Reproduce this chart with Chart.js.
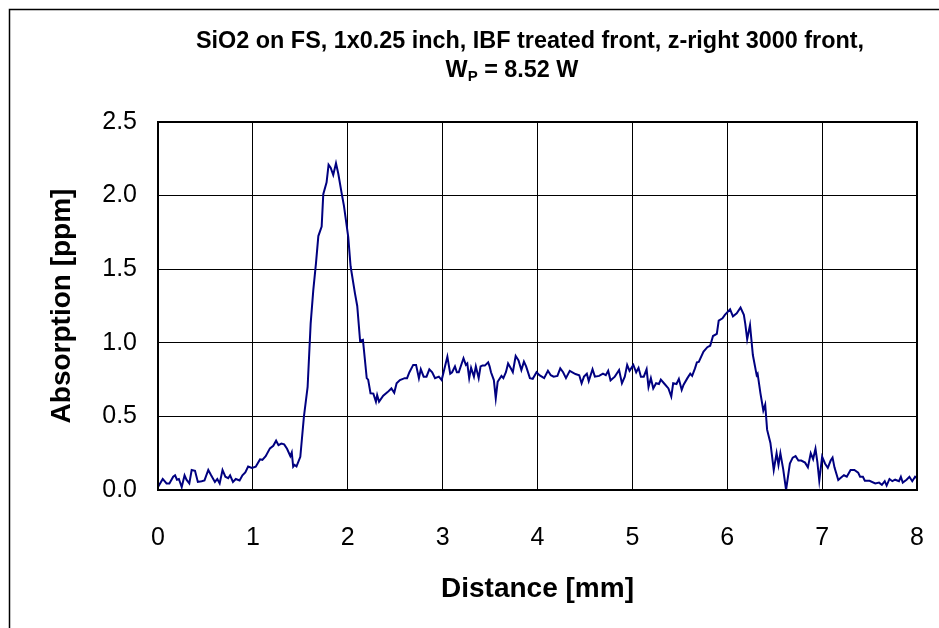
<!DOCTYPE html>
<html>
<head>
<meta charset="utf-8">
<script src="https://cdn.jsdelivr.net/npm/chart.js@4"></script>
<style>
  html, body { margin: 0; padding: 0; background: #fff; }
  #wrap { width: 939px; height: 628px; }
</style>
</head>
<body>
<div id="wrap"><canvas id="absChart" width="939" height="628"></canvas></div>
<script>
// absorption scan across the sample, distance in mm
const distance = [
  0.00, 0.05, 0.09, 0.12, 0.16, 0.18, 0.20, 0.22, 0.25, 0.28, 0.30, 0.33, 0.355, 0.39, 0.42, 0.46, 0.49,
  0.53, 0.56, 0.60, 0.625, 0.65, 0.68, 0.71, 0.74, 0.76, 0.79, 0.82, 0.86, 0.89, 0.92, 0.95, 0.99,
  1.03, 1.075, 1.10, 1.135, 1.18, 1.215, 1.245, 1.27, 1.30, 1.33, 1.36, 1.395, 1.41, 1.425, 1.44, 1.46, 1.50,
  1.538, 1.577, 1.609, 1.637, 1.665, 1.69, 1.725, 1.742, 1.777, 1.798, 1.82, 1.847, 1.876, 1.90, 1.936, 1.96,
  2.005, 2.03, 2.076, 2.10, 2.13, 2.16, 2.20, 2.215, 2.24, 2.27, 2.297, 2.31, 2.33, 2.374, 2.42, 2.46, 2.49,
  2.515, 2.55, 2.60, 2.625, 2.65, 2.69, 2.72, 2.75, 2.77, 2.80, 2.83, 2.86, 2.89, 2.92, 2.96, 2.99,
  3.01, 3.05, 3.08, 3.10, 3.13, 3.15, 3.17, 3.22, 3.245, 3.26, 3.28, 3.30, 3.33, 3.35, 3.38, 3.40, 3.42,
  3.445, 3.48, 3.495, 3.51, 3.54, 3.56, 3.58, 3.62, 3.64, 3.667, 3.69, 3.72, 3.74, 3.77, 3.80, 3.83, 3.857,
  3.88, 3.92, 3.95, 3.99, 4.02, 4.07, 4.11, 4.14, 4.17, 4.21, 4.24, 4.27, 4.30, 4.34, 4.40, 4.44, 4.465,
  4.49, 4.52, 4.54, 4.58, 4.605, 4.65, 4.69, 4.72, 4.745, 4.77, 4.815, 4.86, 4.89, 4.92, 4.945, 4.97,
  5.01, 5.04, 5.065, 5.09, 5.12, 5.15, 5.17, 5.195, 5.22, 5.25, 5.28, 5.30, 5.34, 5.38, 5.41, 5.43, 5.465,
  5.49, 5.52, 5.54, 5.58, 5.61, 5.63, 5.66, 5.68, 5.70, 5.75, 5.79, 5.82, 5.85, 5.89, 5.91, 5.95, 5.975,
  6.03, 6.06, 6.10, 6.14, 6.175, 6.19, 6.21, 6.24, 6.27, 6.31, 6.32, 6.35, 6.38, 6.40, 6.42, 6.455, 6.49,
  6.52, 6.54, 6.56, 6.59, 6.62, 6.66, 6.69, 6.72, 6.75, 6.78, 6.82, 6.85, 6.88, 6.905, 6.93, 6.95, 6.97,
  7.00, 7.03, 7.06, 7.09, 7.11, 7.13, 7.17, 7.20, 7.23, 7.26, 7.30, 7.34, 7.38, 7.40, 7.43, 7.45, 7.50,
  7.56, 7.60, 7.63, 7.66, 7.68, 7.71, 7.74, 7.77, 7.81, 7.83, 7.85, 7.89, 7.92, 7.95, 7.98, 8.00
];
// absorption in ppm
const absorption = [
  0.02, 0.075, 0.045, 0.045, 0.09, 0.10, 0.07, 0.075, 0.02, 0.10, 0.07, 0.045, 0.136, 0.13, 0.055, 0.06, 0.065,
  0.136, 0.10, 0.055, 0.075, 0.045, 0.136, 0.09, 0.08, 0.10, 0.055, 0.075, 0.065, 0.10, 0.12, 0.16, 0.15,
  0.158, 0.208, 0.205, 0.23, 0.283, 0.30, 0.335, 0.305, 0.315, 0.31, 0.28, 0.23, 0.255, 0.158, 0.17, 0.16, 0.225,
  0.498, 0.70, 1.13, 1.36, 1.54, 1.725, 1.79, 2.01, 2.09, 2.21, 2.19, 2.14, 2.22, 2.15, 2.015, 1.93,
  1.72, 1.52, 1.336, 1.25, 1.014, 1.02, 0.76, 0.75, 0.657, 0.655, 0.60, 0.645, 0.60, 0.64, 0.665, 0.69, 0.66,
  0.725, 0.747, 0.76, 0.76, 0.80, 0.85, 0.85, 0.76, 0.82, 0.77, 0.77, 0.82, 0.80, 0.76, 0.77, 0.747,
  0.80, 0.906, 0.79, 0.80, 0.84, 0.80, 0.80, 0.895, 0.85, 0.86, 0.76, 0.83, 0.77, 0.84, 0.76, 0.84, 0.845,
  0.845, 0.867, 0.84, 0.80, 0.747, 0.623, 0.735, 0.775, 0.76, 0.80, 0.86, 0.825, 0.80, 0.91, 0.88, 0.815, 0.872,
  0.84, 0.76, 0.755, 0.80, 0.78, 0.76, 0.81, 0.78, 0.77, 0.775, 0.826, 0.80, 0.76, 0.81, 0.788, 0.78, 0.725,
  0.77, 0.79, 0.74, 0.82, 0.77, 0.775, 0.79, 0.78, 0.81, 0.745, 0.77, 0.815, 0.725, 0.77, 0.85, 0.81,
  0.85, 0.80, 0.83, 0.77, 0.77, 0.82, 0.70, 0.76, 0.69, 0.725, 0.72, 0.75, 0.72, 0.69, 0.635, 0.725, 0.72,
  0.755, 0.68, 0.715, 0.76, 0.79, 0.775, 0.826, 0.867, 0.87, 0.94, 0.97, 0.98, 1.046, 1.06, 1.15, 1.166, 1.19,
  1.227, 1.18, 1.20, 1.24, 1.19, 1.128, 1.024, 1.12, 0.917, 0.78, 0.79, 0.657, 0.54, 0.58, 0.41, 0.32, 0.136,
  0.25, 0.17, 0.25, 0.14, 0.00, 0.18, 0.22, 0.23, 0.20, 0.20, 0.186, 0.154, 0.25, 0.21, 0.28, 0.19, 0.063,
  0.226, 0.18, 0.15, 0.20, 0.22, 0.154, 0.068, 0.085, 0.10, 0.09, 0.136, 0.136, 0.118, 0.09, 0.09, 0.063, 0.063,
  0.045, 0.05, 0.035, 0.06, 0.03, 0.075, 0.06, 0.07, 0.06, 0.09, 0.05, 0.07, 0.09, 0.06, 0.09, 0.08
];
const xTicks = [0, 1, 2, 3, 4, 5, 6, 7, 8];
const yTicks = [0, 0.5, 1.0, 1.5, 2.0, 2.5];

const titleLine1 = 'SiO2 on FS, 1x0.25 inch, IBF treated front, z-right 3000 front,';
const titleLine2 = ['W', 'P', ' = 8.52 W'];

const FONT = "'Liberation Sans', Arial, sans-serif";

// outer frame, boxed plot area and the two-line heading with subscript
const decorations = {
  id: 'decorations',
  afterDraw(chart) {
    const ctx = chart.ctx;
    const a = chart.chartArea;
    ctx.save();
    ctx.strokeStyle = '#000';
    ctx.lineWidth = 1.5;
    ctx.beginPath();
    ctx.moveTo(9.5, 628);
    ctx.lineTo(9.5, 9.5);
    ctx.lineTo(939, 9.5);
    ctx.stroke();

    ctx.lineWidth = 2;
    ctx.strokeRect(a.left, a.top, a.right - a.left, a.bottom - a.top);

    ctx.fillStyle = '#000';
    ctx.textBaseline = 'middle';
    ctx.textAlign = 'center';
    ctx.font = 'bold 23.4px ' + FONT;
    ctx.fillText(titleLine1, 530, 42);

    ctx.textAlign = 'left';
    const big = 'bold 23.4px ' + FONT, small = 'bold 15px ' + FONT;
    ctx.font = big; const w1 = ctx.measureText(titleLine2[0]).width;
    ctx.font = small; const w2 = ctx.measureText(titleLine2[1]).width;
    ctx.font = big; const w3 = ctx.measureText(titleLine2[2]).width;
    let x = 512 - (w1 + w2 + w3) / 2;
    ctx.fillText(titleLine2[0], x, 71); x += w1;
    ctx.font = small; ctx.fillText(titleLine2[1], x, 77); x += w2;
    ctx.font = big; ctx.fillText(titleLine2[2], x, 71);
    ctx.restore();
  }
};

new Chart(document.getElementById('absChart'), {
  type: 'line',
  data: {
    datasets: [{
      data: distance.map((d, i) => ({ x: d, y: absorption[i] })),
      borderColor: '#000080',
      borderWidth: 2,
      pointRadius: 0,
      tension: 0,
      fill: false
    }]
  },
  options: {
    responsive: false,
    animation: false,
    devicePixelRatio: 1,
    layout: { padding: { top: 122, right: 22, left: 0, bottom: 0 } },
    plugins: { legend: { display: false }, tooltip: { enabled: false } },
    scales: {
      x: {
        type: 'linear', min: 0, max: 8,
        afterBuildTicks: s => { s.ticks = xTicks.map(v => ({ value: v })); },
        afterFit: s => { s.height = 138; },
        grid: { color: '#000', lineWidth: 1, drawTicks: false },
        border: { display: false },
        // tall line height pushes the labels down without widening the right gutter
        ticks: { color: '#000', padding: 4, maxRotation: 0, font: { family: FONT, size: 25, lineHeight: '88px' }, callback: v => String(v) },
        title: { display: true, text: 'Distance [mm]', color: '#000', font: { family: FONT, size: 28, weight: 'bold' }, padding: { top: 0, bottom: 22 } }
      },
      y: {
        type: 'linear', min: 0, max: 2.5,
        afterBuildTicks: s => { s.ticks = yTicks.map(v => ({ value: v })); },
        afterFit: s => { s.width = 158; },
        grid: { color: '#000', lineWidth: 1, drawTicks: false },
        border: { display: false },
        ticks: { color: '#000', padding: 21, font: { family: FONT, size: 25 }, callback: v => v.toFixed(1) },
        title: { display: true, text: 'Absorption [ppm]', color: '#000', font: { family: FONT, size: 28, weight: 'bold' }, padding: { top: 45, bottom: 0 } }
      }
    }
  },
  plugins: [decorations]
});
</script>
</body>
</html>
